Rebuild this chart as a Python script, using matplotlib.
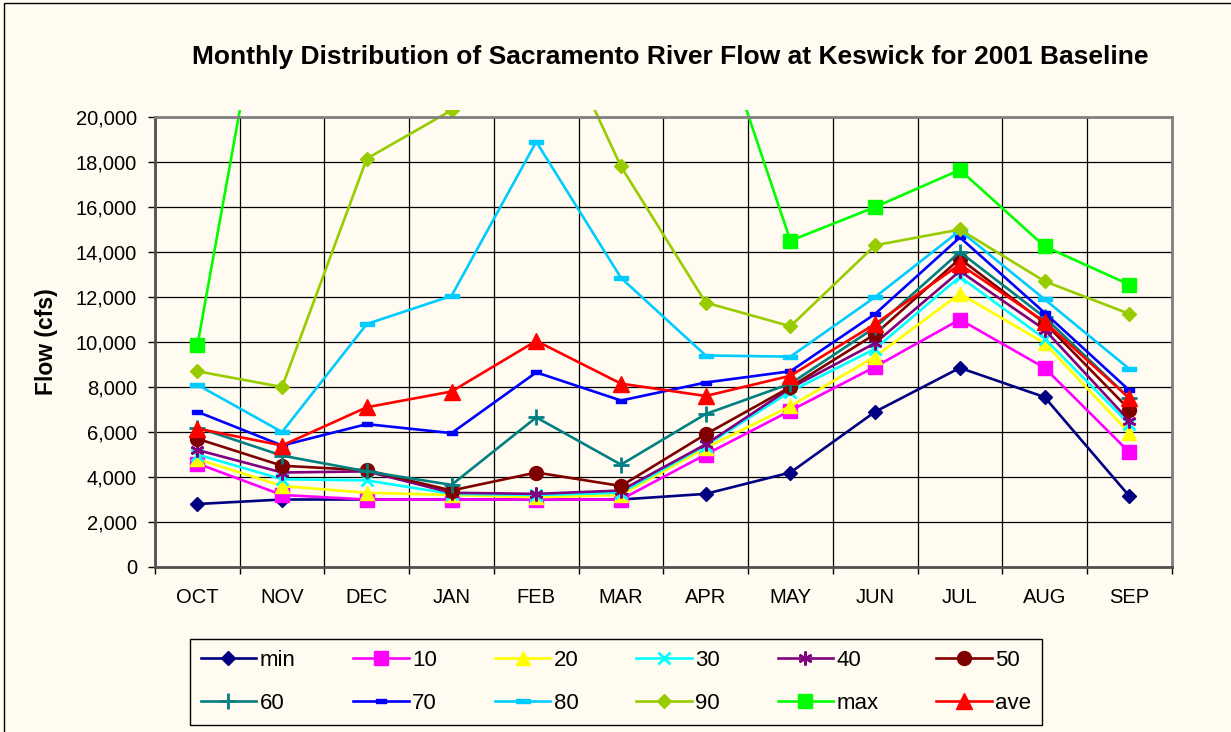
import matplotlib
matplotlib.use('Agg')
import matplotlib.pyplot as plt
from matplotlib.patches import Rectangle
from matplotlib.ticker import FuncFormatter, MultipleLocator
import numpy as np

plt.rcParams['font.family'] = ['Liberation Sans', 'DejaVu Sans']

months = ['OCT', 'NOV', 'DEC', 'JAN', 'FEB', 'MAR', 'APR', 'MAY', 'JUN', 'JUL', 'AUG', 'SEP']

# monthly flow (cfs); values above 20,000 are off-scale
flow_min = [2800, 3000, 3000, 3000, 3000, 3000, 3250, 4200, 6900, 8850, 7550, 3150]
flow_10 = [4600, 3200, 3000, 3000, 3000, 3000, 5000, 6950, 8900, 11000, 8850, 5100]
flow_20 = [4800, 3600, 3300, 3200, 3100, 3200, 5300, 7150, 9350, 12150, 9950, 5950]
flow_30 = [5000, 3900, 3850, 3250, 3200, 3300, 5400, 7800, 9700, 12900, 10150, 6350]
flow_40 = [5200, 4200, 4250, 3300, 3250, 3400, 5450, 7950, 9950, 13150, 10550, 6500]
flow_50 = [5700, 4500, 4300, 3400, 4200, 3600, 5900, 8000, 10350, 13700, 10850, 7000]
flow_60 = [6200, 4950, 4250, 3650, 6650, 4550, 6800, 8150, 10650, 14000, 11100, 7500]
flow_70 = [6900, 5400, 6350, 5950, 8650, 7400, 8200, 8700, 11250, 14650, 11300, 7850]
flow_80 = [8100, 6000, 10800, 12050, 18900, 12850, 9400, 9350, 12000, 14950, 11900, 8800]
flow_90 = [8700, 8000, 18150, 20300, 25900, 17800, 11750, 10700, 14300, 15000, 12700, 11250]
flow_max = [9850, 30700, 36000, 42000, 55000, 40000, 25700, 14500, 16000, 17650, 14250, 12550]
flow_ave = [6150, 5400, 7100, 7800, 10050, 8150, 7600, 8500, 10800, 13450, 10900, 7500]

bg = '#FFFBF0'

# excel style dash markers
short_bar = [(-1, -0.45), (1, -0.45), (1, 0.45), (-1, 0.45), (-1, -0.45)]
long_bar = [(-1, -0.35), (1, -0.35), (1, 0.35), (-1, 0.35), (-1, -0.35)]

series = [
    ('min', flow_min, '#000080', dict(marker='D', ms=7)),
    ('10', flow_10, '#FF00FF', dict(marker='s', ms=9.5)),
    ('20', flow_20, '#FFFF00', dict(marker='^', ms=10.5)),
    ('30', flow_30, '#00FFFF', dict(marker='x', ms=9, mew=2)),
    ('40', flow_40, '#800080', dict(marker=(6, 2, 0), ms=10, mew=1.8)),
    ('50', flow_50, '#800000', dict(marker='o', ms=10)),
    ('60', flow_60, '#008080', dict(marker='+', ms=11, mew=2)),
    ('70', flow_70, '#0000FF', dict(marker=short_bar, ms=7)),
    ('80', flow_80, '#00CCFF', dict(marker=long_bar, ms=10)),
    ('90', flow_90, '#99CC00', dict(marker='D', ms=7)),
    ('max', flow_max, '#00FF00', dict(marker='s', ms=10)),
    ('ave', flow_ave, '#FF0000', dict(marker='^', ms=11)),
]

fig = plt.figure(figsize=(12.31, 7.32), dpi=100, facecolor=bg)
ax = fig.add_axes([155/1231, 1-567/732, (1171.7-155)/1231, 450/732])
ax.set_facecolor(bg)

x = np.arange(len(months))
clip = Rectangle((0, 0), 1, 1.016, transform=ax.transAxes)
handles = []
for name, vals, col, mk in series:
    ln, = ax.plot(x, vals, color=col, lw=1.9, mfc=col, mec=col, label=name, **mk)
    ln.set_clip_path(clip)
    handles.append(ln)

ax.set_xlim(-0.5, 11.5)
ax.set_ylim(0, 20000)
ax.yaxis.set_major_locator(MultipleLocator(2000))
ax.yaxis.set_major_formatter(FuncFormatter(lambda v, p: '{:,.0f}'.format(v)))
ax.set_xticks(x)
ax.set_xticklabels(months)
ax.set_xticks(np.arange(-0.5, 12, 1), minor=True)

ax.grid(axis='y', which='major', color='black', lw=0.9)
ax.grid(axis='x', which='minor', color='black', lw=0.9)
ax.set_axisbelow(True)

ax.tick_params(axis='x', which='major', length=0, pad=15, labelsize=14.5)
ax.tick_params(axis='x', which='minor', length=5, width=1, direction='out')
ax.tick_params(axis='y', length=5, width=1, direction='out', pad=8, labelsize=14.5)

for s in ['top', 'right']:
    ax.spines[s].set_color('#808080')
    ax.spines[s].set_linewidth(2)
for s in ['left', 'bottom']:
    ax.spines[s].set_color('#505050')
    ax.spines[s].set_linewidth(2)

fig.text(670/1231, 1-57/732, 'Monthly Distribution of Sacramento River Flow at Keswick for 2001 Baseline',
         ha='center', va='center', fontsize=19, fontweight='bold')
fig.text(47/1231, 1-342/732, 'Flow (cfs)', rotation=90, ha='center', va='center',
         fontsize=16.5, fontweight='bold')

# legend in rows like excel (matplotlib fills by column)
order = [0, 6, 1, 7, 2, 8, 3, 9, 4, 10, 5, 11]
leg = fig.legend([handles[i] for i in order], [series[i][0] for i in order],
                 ncol=6, loc='center', bbox_to_anchor=(616/1231, 1-682/732),
                 fontsize=16, frameon=True, fancybox=False, edgecolor='black',
                 facecolor=bg, framealpha=1, handlelength=2.5, handletextpad=0.15,
                 columnspacing=2.6, labelspacing=1.0, borderpad=0.5)
leg.get_frame().set_linewidth(1)

# outer chart border
fig.patches.append(Rectangle((4/1231, -0.1), 1.2, 0.1 + 729/732, transform=fig.transFigure,
                             fill=False, edgecolor='black', lw=1))

fig.savefig('out.png', dpi=100, facecolor=bg)
